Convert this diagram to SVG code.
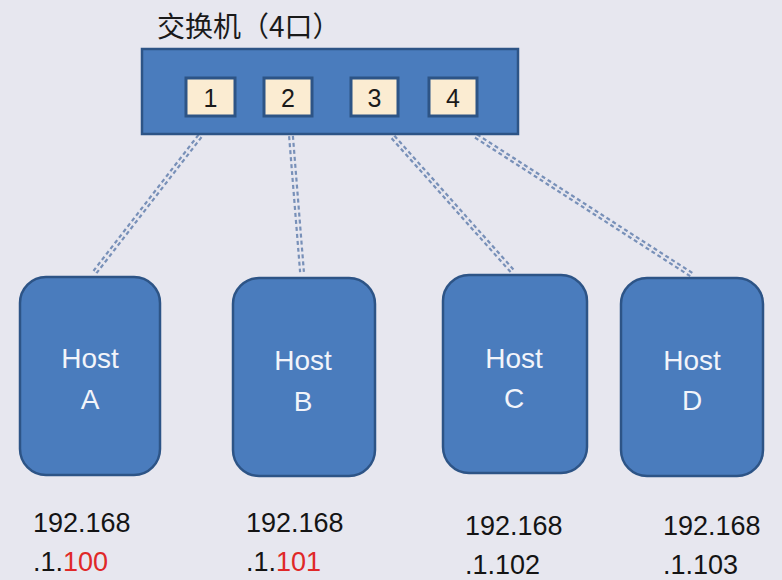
<svg xmlns="http://www.w3.org/2000/svg" width="782" height="580" viewBox="0 0 782 580">
<style>
.bg{fill:#e7e7ef}
.sw{fill:#4a7cbd;stroke:#2d5486;stroke-width:2.5}
.port{fill:#fbecd2;stroke:#2d5486;stroke-width:3}
.host{fill:#4a7cbd;stroke:#2d5486;stroke-width:2.5}
.pn{font-family:"Liberation Sans",Arial,sans-serif;font-size:25px;fill:#1a1a1a;text-anchor:middle}
.ht{font-family:"Liberation Sans",Arial,sans-serif;font-size:28px;fill:#f2f4fa;text-anchor:middle}
.ip{font-family:"Liberation Sans",Arial,sans-serif;font-size:27px;fill:#141414}
.red{fill:#e02828}
.title{font-family:"Noto Sans CJK SC","Noto Sans",sans-serif;font-size:28px;fill:#1a1a1a}
.lo{stroke:#7890b8;stroke-width:6;stroke-dasharray:4 3;fill:none}
.li{stroke:#e7e7ef;stroke-width:1.6;fill:none}
</style>
<rect class="bg" x="0" y="0" width="782" height="580"/>
<text class="title" x="157" y="37">交换机（4口）</text>
<g id="connectors">
<line class="lo" x1="200" y1="136" x2="95" y2="272"/>
<line class="li" x1="200" y1="136" x2="95" y2="272"/>
<line class="lo" x1="291" y1="136" x2="302" y2="272"/>
<line class="li" x1="291" y1="136" x2="302" y2="272"/>
<line class="lo" x1="393" y1="137" x2="514" y2="273"/>
<line class="li" x1="393" y1="137" x2="514" y2="273"/>
<line class="lo" x1="476" y1="136" x2="692" y2="275"/>
<line class="li" x1="476" y1="136" x2="692" y2="275"/>
</g>
<g id="switch">
<rect class="sw" x="142" y="49" width="376" height="85"/>
<g id="port1"><rect class="port" x="186" y="78" width="49" height="38"/><text class="pn" x="210.5" y="107">1</text></g>
<g id="port2"><rect class="port" x="264" y="78" width="48" height="38"/><text class="pn" x="288" y="107">2</text></g>
<g id="port3"><rect class="port" x="351" y="78" width="47" height="38"/><text class="pn" x="374.5" y="107">3</text></g>
<g id="port4"><rect class="port" x="429" y="78" width="48" height="38"/><text class="pn" x="453" y="107">4</text></g>
</g>
<g id="hostA">
<rect class="host" x="20" y="277" width="140" height="198" rx="26"/>
<text class="ht" x="90" y="368">Host</text>
<text class="ht" x="90" y="409">A</text>
</g>
<g id="hostB">
<rect class="host" x="233" y="278" width="142" height="198" rx="26"/>
<text class="ht" x="303" y="370">Host</text>
<text class="ht" x="303" y="411">B</text>
</g>
<g id="hostC">
<rect class="host" x="443" y="275" width="144" height="198" rx="26"/>
<text class="ht" x="514" y="368">Host</text>
<text class="ht" x="514" y="408">C</text>
</g>
<g id="hostD">
<rect class="host" x="621" y="278" width="142" height="198" rx="26"/>
<text class="ht" x="692" y="370">Host</text>
<text class="ht" x="692" y="410">D</text>
</g>
<g id="ipA"><text class="ip" x="33" y="532">192.168</text><text class="ip" x="33" y="571">.1.<tspan class="red">100</tspan></text></g>
<g id="ipB"><text class="ip" x="246" y="532">192.168</text><text class="ip" x="246" y="571">.1.<tspan class="red">101</tspan></text></g>
<g id="ipC"><text class="ip" x="465" y="535">192.168</text><text class="ip" x="465" y="574">.1.102</text></g>
<g id="ipD"><text class="ip" x="663" y="535">192.168</text><text class="ip" x="663" y="574">.1.103</text></g>
</svg>
